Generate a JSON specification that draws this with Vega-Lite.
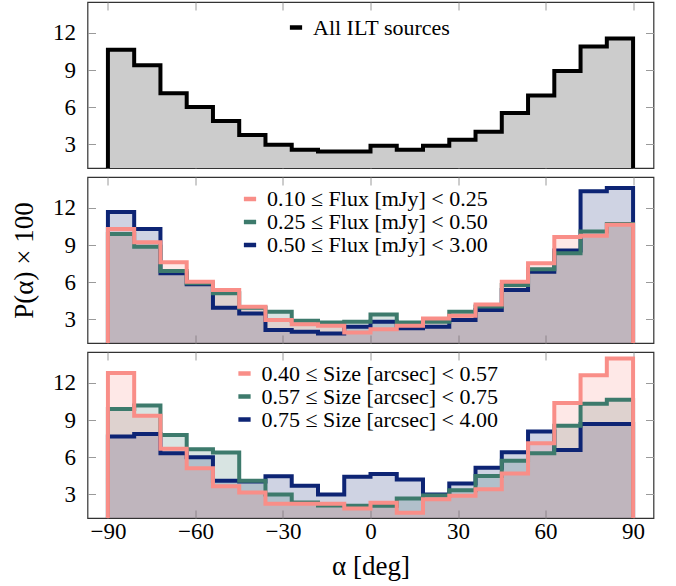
{
 "$schema": "https://vega.github.io/schema/vega-lite/v6.json",
 "padding": {"left": 9.5, "top": 0, "right": 5, "bottom": 5},
 "spacing": 5,
 "config": {
  "font": "Liberation Serif",
  "view": {"stroke": "#333333", "strokeWidth": 1.2},
  "axis": {"grid": false, "domain": false, "tickColor": "#9a9a9a", "tickWidth": 1, "tickSize": -8, "labelFont": "Liberation Serif", "labelFontSize": 23, "labelColor": "black", "titleFont": "Liberation Serif", "titleFontSize": 27, "titleFontWeight": "normal", "titleColor": "black"},
  "legend": {"labelFont": "Liberation Serif", "labelFontSize": 22, "labelColor": "black", "labelLimit": 0}
 },
 "datasets": {
  "all": [
   {"s":"All ILT sources","i":0,"a":-90,"p":0},{"s":"All ILT sources","i":1,"a":-90,"p":10.64},{"s":"All ILT sources","i":2,"a":-81,"p":9.40},{"s":"All ILT sources","i":3,"a":-72,"p":7.14},{"s":"All ILT sources","i":4,"a":-63,"p":6.02},{"s":"All ILT sources","i":5,"a":-54,"p":4.89},{"s":"All ILT sources","i":6,"a":-45,"p":3.76},{"s":"All ILT sources","i":7,"a":-36,"p":2.98},{"s":"All ILT sources","i":8,"a":-27,"p":2.57},{"s":"All ILT sources","i":9,"a":-18,"p":2.44},{"s":"All ILT sources","i":10,"a":-9,"p":2.44},{"s":"All ILT sources","i":11,"a":0,"p":2.90},{"s":"All ILT sources","i":12,"a":9,"p":2.57},{"s":"All ILT sources","i":13,"a":18,"p":2.90},{"s":"All ILT sources","i":14,"a":27,"p":3.38},{"s":"All ILT sources","i":15,"a":36,"p":4.02},{"s":"All ILT sources","i":16,"a":45,"p":5.53},{"s":"All ILT sources","i":17,"a":54,"p":6.95},{"s":"All ILT sources","i":18,"a":63,"p":8.94},{"s":"All ILT sources","i":19,"a":72,"p":10.90},{"s":"All ILT sources","i":20,"a":81,"p":11.55},{"s":"All ILT sources","i":21,"a":90,"p":11.55},{"s":"All ILT sources","i":22,"a":90,"p":0}
  ],
  "flux": [
   {"s":"0.50 ≤ Flux [mJy] < 3.00","i":0,"a":-90,"p":0},{"s":"0.50 ≤ Flux [mJy] < 3.00","i":1,"a":-90,"p":11.68},{"s":"0.50 ≤ Flux [mJy] < 3.00","i":2,"a":-81,"p":10.30},{"s":"0.50 ≤ Flux [mJy] < 3.00","i":3,"a":-72,"p":6.73},{"s":"0.50 ≤ Flux [mJy] < 3.00","i":4,"a":-63,"p":5.84},{"s":"0.50 ≤ Flux [mJy] < 3.00","i":5,"a":-54,"p":3.95},{"s":"0.50 ≤ Flux [mJy] < 3.00","i":6,"a":-45,"p":3.49},{"s":"0.50 ≤ Flux [mJy] < 3.00","i":7,"a":-36,"p":2.14},{"s":"0.50 ≤ Flux [mJy] < 3.00","i":8,"a":-27,"p":2.00},{"s":"0.50 ≤ Flux [mJy] < 3.00","i":9,"a":-18,"p":1.87},{"s":"0.50 ≤ Flux [mJy] < 3.00","i":10,"a":-9,"p":2.41},{"s":"0.50 ≤ Flux [mJy] < 3.00","i":11,"a":0,"p":2.81},{"s":"0.50 ≤ Flux [mJy] < 3.00","i":12,"a":9,"p":2.30},{"s":"0.50 ≤ Flux [mJy] < 3.00","i":13,"a":18,"p":2.41},{"s":"0.50 ≤ Flux [mJy] < 3.00","i":14,"a":27,"p":2.95},{"s":"0.50 ≤ Flux [mJy] < 3.00","i":15,"a":36,"p":3.76},{"s":"0.50 ≤ Flux [mJy] < 3.00","i":16,"a":45,"p":5.38},{"s":"0.50 ≤ Flux [mJy] < 3.00","i":17,"a":54,"p":6.86},{"s":"0.50 ≤ Flux [mJy] < 3.00","i":18,"a":63,"p":8.57},{"s":"0.50 ≤ Flux [mJy] < 3.00","i":19,"a":72,"p":13.35},{"s":"0.50 ≤ Flux [mJy] < 3.00","i":20,"a":81,"p":13.62},{"s":"0.50 ≤ Flux [mJy] < 3.00","i":21,"a":90,"p":13.62},{"s":"0.50 ≤ Flux [mJy] < 3.00","i":22,"a":90,"p":0},
   {"s":"0.25 ≤ Flux [mJy] < 0.50","i":0,"a":-90,"p":0},{"s":"0.25 ≤ Flux [mJy] < 0.50","i":1,"a":-90,"p":9.89},{"s":"0.25 ≤ Flux [mJy] < 0.50","i":2,"a":-81,"p":8.86},{"s":"0.25 ≤ Flux [mJy] < 0.50","i":3,"a":-72,"p":6.92},{"s":"0.25 ≤ Flux [mJy] < 0.50","i":4,"a":-63,"p":5.92},{"s":"0.25 ≤ Flux [mJy] < 0.50","i":5,"a":-54,"p":5.11},{"s":"0.25 ≤ Flux [mJy] < 0.50","i":6,"a":-45,"p":3.95},{"s":"0.25 ≤ Flux [mJy] < 0.50","i":7,"a":-36,"p":3.62},{"s":"0.25 ≤ Flux [mJy] < 0.50","i":8,"a":-27,"p":2.89},{"s":"0.25 ≤ Flux [mJy] < 0.50","i":9,"a":-18,"p":2.76},{"s":"0.25 ≤ Flux [mJy] < 0.50","i":10,"a":-9,"p":2.81},{"s":"0.25 ≤ Flux [mJy] < 0.50","i":11,"a":0,"p":3.41},{"s":"0.25 ≤ Flux [mJy] < 0.50","i":12,"a":9,"p":2.76},{"s":"0.25 ≤ Flux [mJy] < 0.50","i":13,"a":18,"p":2.81},{"s":"0.25 ≤ Flux [mJy] < 0.50","i":14,"a":27,"p":3.62},{"s":"0.25 ≤ Flux [mJy] < 0.50","i":15,"a":36,"p":4.05},{"s":"0.25 ≤ Flux [mJy] < 0.50","i":16,"a":45,"p":5.78},{"s":"0.25 ≤ Flux [mJy] < 0.50","i":17,"a":54,"p":7.05},{"s":"0.25 ≤ Flux [mJy] < 0.50","i":18,"a":63,"p":8.35},{"s":"0.25 ≤ Flux [mJy] < 0.50","i":19,"a":72,"p":10.10},{"s":"0.25 ≤ Flux [mJy] < 0.50","i":20,"a":81,"p":10.70},{"s":"0.25 ≤ Flux [mJy] < 0.50","i":21,"a":90,"p":10.70},{"s":"0.25 ≤ Flux [mJy] < 0.50","i":22,"a":90,"p":0},
   {"s":"0.10 ≤ Flux [mJy] < 0.25","i":0,"a":-90,"p":0},{"s":"0.10 ≤ Flux [mJy] < 0.25","i":1,"a":-90,"p":10.30},{"s":"0.10 ≤ Flux [mJy] < 0.25","i":2,"a":-81,"p":9.24},{"s":"0.10 ≤ Flux [mJy] < 0.25","i":3,"a":-72,"p":7.62},{"s":"0.10 ≤ Flux [mJy] < 0.25","i":4,"a":-63,"p":6.05},{"s":"0.10 ≤ Flux [mJy] < 0.25","i":5,"a":-54,"p":5.38},{"s":"0.10 ≤ Flux [mJy] < 0.25","i":6,"a":-45,"p":4.03},{"s":"0.10 ≤ Flux [mJy] < 0.25","i":7,"a":-36,"p":2.95},{"s":"0.10 ≤ Flux [mJy] < 0.25","i":8,"a":-27,"p":2.62},{"s":"0.10 ≤ Flux [mJy] < 0.25","i":9,"a":-18,"p":2.49},{"s":"0.10 ≤ Flux [mJy] < 0.25","i":10,"a":-9,"p":1.95},{"s":"0.10 ≤ Flux [mJy] < 0.25","i":11,"a":0,"p":2.22},{"s":"0.10 ≤ Flux [mJy] < 0.25","i":12,"a":9,"p":2.50},{"s":"0.10 ≤ Flux [mJy] < 0.25","i":13,"a":18,"p":3.08},{"s":"0.10 ≤ Flux [mJy] < 0.25","i":14,"a":27,"p":3.30},{"s":"0.10 ≤ Flux [mJy] < 0.25","i":15,"a":36,"p":4.20},{"s":"0.10 ≤ Flux [mJy] < 0.25","i":16,"a":45,"p":6.05},{"s":"0.10 ≤ Flux [mJy] < 0.25","i":17,"a":54,"p":7.54},{"s":"0.10 ≤ Flux [mJy] < 0.25","i":18,"a":63,"p":9.65},{"s":"0.10 ≤ Flux [mJy] < 0.25","i":19,"a":72,"p":9.76},{"s":"0.10 ≤ Flux [mJy] < 0.25","i":20,"a":81,"p":10.65},{"s":"0.10 ≤ Flux [mJy] < 0.25","i":21,"a":90,"p":10.65},{"s":"0.10 ≤ Flux [mJy] < 0.25","i":22,"a":90,"p":0}
  ],
  "size": [
   {"s":"0.75 ≤ Size [arcsec] < 4.00","i":0,"a":-90,"p":0},{"s":"0.75 ≤ Size [arcsec] < 4.00","i":1,"a":-90,"p":7.68},{"s":"0.75 ≤ Size [arcsec] < 4.00","i":2,"a":-81,"p":7.89},{"s":"0.75 ≤ Size [arcsec] < 4.00","i":3,"a":-72,"p":6.32},{"s":"0.75 ≤ Size [arcsec] < 4.00","i":4,"a":-63,"p":6.00},{"s":"0.75 ≤ Size [arcsec] < 4.00","i":5,"a":-54,"p":4.11},{"s":"0.75 ≤ Size [arcsec] < 4.00","i":6,"a":-45,"p":4.05},{"s":"0.75 ≤ Size [arcsec] < 4.00","i":7,"a":-36,"p":4.48},{"s":"0.75 ≤ Size [arcsec] < 4.00","i":8,"a":-27,"p":3.70},{"s":"0.75 ≤ Size [arcsec] < 4.00","i":9,"a":-18,"p":3.00},{"s":"0.75 ≤ Size [arcsec] < 4.00","i":10,"a":-9,"p":4.43},{"s":"0.75 ≤ Size [arcsec] < 4.00","i":11,"a":0,"p":4.65},{"s":"0.75 ≤ Size [arcsec] < 4.00","i":12,"a":9,"p":4.20},{"s":"0.75 ≤ Size [arcsec] < 4.00","i":13,"a":18,"p":3.00},{"s":"0.75 ≤ Size [arcsec] < 4.00","i":14,"a":27,"p":3.89},{"s":"0.75 ≤ Size [arcsec] < 4.00","i":15,"a":36,"p":5.16},{"s":"0.75 ≤ Size [arcsec] < 4.00","i":16,"a":45,"p":6.40},{"s":"0.75 ≤ Size [arcsec] < 4.00","i":17,"a":54,"p":8.08},{"s":"0.75 ≤ Size [arcsec] < 4.00","i":18,"a":63,"p":6.59},{"s":"0.75 ≤ Size [arcsec] < 4.00","i":19,"a":72,"p":8.68},{"s":"0.75 ≤ Size [arcsec] < 4.00","i":20,"a":81,"p":8.68},{"s":"0.75 ≤ Size [arcsec] < 4.00","i":21,"a":90,"p":8.68},{"s":"0.75 ≤ Size [arcsec] < 4.00","i":22,"a":90,"p":0},
   {"s":"0.57 ≤ Size [arcsec] < 0.75","i":0,"a":-90,"p":0},{"s":"0.57 ≤ Size [arcsec] < 0.75","i":1,"a":-90,"p":9.89},{"s":"0.57 ≤ Size [arcsec] < 0.75","i":2,"a":-81,"p":10.19},{"s":"0.57 ≤ Size [arcsec] < 0.75","i":3,"a":-72,"p":7.81},{"s":"0.57 ≤ Size [arcsec] < 0.75","i":4,"a":-63,"p":6.65},{"s":"0.57 ≤ Size [arcsec] < 0.75","i":5,"a":-54,"p":6.38},{"s":"0.57 ≤ Size [arcsec] < 0.75","i":6,"a":-45,"p":4.11},{"s":"0.57 ≤ Size [arcsec] < 0.75","i":7,"a":-36,"p":3.00},{"s":"0.57 ≤ Size [arcsec] < 0.75","i":8,"a":-27,"p":2.36},{"s":"0.57 ≤ Size [arcsec] < 0.75","i":9,"a":-18,"p":2.10},{"s":"0.57 ≤ Size [arcsec] < 0.75","i":10,"a":-9,"p":2.08},{"s":"0.57 ≤ Size [arcsec] < 0.75","i":11,"a":0,"p":2.08},{"s":"0.57 ≤ Size [arcsec] < 0.75","i":12,"a":9,"p":2.68},{"s":"0.57 ≤ Size [arcsec] < 0.75","i":13,"a":18,"p":2.92},{"s":"0.57 ≤ Size [arcsec] < 0.75","i":14,"a":27,"p":3.35},{"s":"0.57 ≤ Size [arcsec] < 0.75","i":15,"a":36,"p":4.50},{"s":"0.57 ≤ Size [arcsec] < 0.75","i":16,"a":45,"p":5.73},{"s":"0.57 ≤ Size [arcsec] < 0.75","i":17,"a":54,"p":6.32},{"s":"0.57 ≤ Size [arcsec] < 0.75","i":18,"a":63,"p":8.54},{"s":"0.57 ≤ Size [arcsec] < 0.75","i":19,"a":72,"p":10.32},{"s":"0.57 ≤ Size [arcsec] < 0.75","i":20,"a":81,"p":10.65},{"s":"0.57 ≤ Size [arcsec] < 0.75","i":21,"a":90,"p":10.65},{"s":"0.57 ≤ Size [arcsec] < 0.75","i":22,"a":90,"p":0},
   {"s":"0.40 ≤ Size [arcsec] < 0.57","i":0,"a":-90,"p":0},{"s":"0.40 ≤ Size [arcsec] < 0.57","i":1,"a":-90,"p":12.81},{"s":"0.40 ≤ Size [arcsec] < 0.57","i":2,"a":-81,"p":9.35},{"s":"0.40 ≤ Size [arcsec] < 0.57","i":3,"a":-72,"p":6.70},{"s":"0.40 ≤ Size [arcsec] < 0.57","i":4,"a":-63,"p":5.11},{"s":"0.40 ≤ Size [arcsec] < 0.57","i":5,"a":-54,"p":3.67},{"s":"0.40 ≤ Size [arcsec] < 0.57","i":6,"a":-45,"p":3.16},{"s":"0.40 ≤ Size [arcsec] < 0.57","i":7,"a":-36,"p":2.25},{"s":"0.40 ≤ Size [arcsec] < 0.57","i":8,"a":-27,"p":2.25},{"s":"0.40 ≤ Size [arcsec] < 0.57","i":9,"a":-18,"p":2.25},{"s":"0.40 ≤ Size [arcsec] < 0.57","i":10,"a":-9,"p":1.87},{"s":"0.40 ≤ Size [arcsec] < 0.57","i":11,"a":0,"p":2.33},{"s":"0.40 ≤ Size [arcsec] < 0.57","i":12,"a":9,"p":1.52},{"s":"0.40 ≤ Size [arcsec] < 0.57","i":13,"a":18,"p":2.62},{"s":"0.40 ≤ Size [arcsec] < 0.57","i":14,"a":27,"p":2.90},{"s":"0.40 ≤ Size [arcsec] < 0.57","i":15,"a":36,"p":3.43},{"s":"0.40 ≤ Size [arcsec] < 0.57","i":16,"a":45,"p":4.70},{"s":"0.40 ≤ Size [arcsec] < 0.57","i":17,"a":54,"p":7.14},{"s":"0.40 ≤ Size [arcsec] < 0.57","i":18,"a":63,"p":10.38},{"s":"0.40 ≤ Size [arcsec] < 0.57","i":19,"a":72,"p":12.62},{"s":"0.40 ≤ Size [arcsec] < 0.57","i":20,"a":81,"p":13.97},{"s":"0.40 ≤ Size [arcsec] < 0.57","i":21,"a":90,"p":13.97},{"s":"0.40 ≤ Size [arcsec] < 0.57","i":22,"a":90,"p":0}
  ]
 },
 "vconcat": [
  {
   "width": 566, "height": 166,
   "data": {"name": "all"},
   "layer": [
    {"mark": {"type": "area", "interpolate": "step-after", "clip": true, "color": "#cccccc", "fillOpacity": 1},
     "encoding": {
      "x": {"field": "a", "type": "quantitative", "scale": {"domain": [-97, 97], "nice": false, "zero": false}, "axis": {"orient": "bottom", "values": [-90,-60,-30,0,30,60,90], "labels": false, "title": null}},
      "y": {"field": "p", "type": "quantitative", "stack": null, "scale": {"domain": [1.1, 14.5], "nice": false, "zero": false}, "axis": {"orient": "left", "values": [3,6,9,12], "title": null, "labelPadding": 20}}
     }},
    {"mark": {"type": "line", "interpolate": "step-after", "clip": true, "strokeWidth": 4, "strokeJoin": "miter"},
     "encoding": {
      "x": {"field": "a", "type": "quantitative", "axis": {"orient": "top", "values": [-90,-60,-30,0,30,60,90], "labels": false, "title": null}},
      "y": {"field": "p", "type": "quantitative", "axis": {"orient": "right", "values": [3,6,9,12], "labels": false, "title": null}},
      "order": {"field": "i"},
      "color": {"field": "s", "type": "nominal", "scale": {"domain": ["All ILT sources"], "range": ["#000000"]},
        "legend": {"orient": "none", "legendX": 197.5, "legendY": 14.5, "title": null, "symbolType": "stroke", "symbolStrokeWidth": 4.5, "symbolSize": 150, "labelOffset": 6}}
     }}
   ],
   "resolve": {"axis": {"x": "independent", "y": "independent"}}
  },
  {
   "width": 566, "height": 166,
   "data": {"name": "flux"},
   "layer": [
    {"transform": [{"filter": "datum.s == '0.50 ≤ Flux [mJy] < 3.00'"}],
     "mark": {"type": "area", "interpolate": "step-after", "clip": true, "color": "#0d2474", "fillOpacity": 0.2},
     "encoding": {
      "x": {"field": "a", "type": "quantitative", "scale": {"domain": [-97, 97], "nice": false, "zero": false}, "axis": {"orient": "bottom", "values": [-90,-60,-30,0,30,60,90], "labels": false, "title": null}},
      "y": {"field": "p", "type": "quantitative", "stack": null, "scale": {"domain": [1.1, 14.5], "nice": false, "zero": false}, "axis": {"orient": "left", "values": [3,6,9,12], "title": "P(α) × 100", "labelPadding": 20, "titlePadding": 14}}
     }},
    {"transform": [{"filter": "datum.s == '0.25 ≤ Flux [mJy] < 0.50'"}],
     "mark": {"type": "area", "interpolate": "step-after", "clip": true, "color": "#3d7a6c", "fillOpacity": 0.2},
     "encoding": {
      "x": {"field": "a", "type": "quantitative", "axis": null},
      "y": {"field": "p", "type": "quantitative", "stack": null, "axis": null}
     }},
    {"transform": [{"filter": "datum.s == '0.10 ≤ Flux [mJy] < 0.25'"}],
     "mark": {"type": "area", "interpolate": "step-after", "clip": true, "color": "#f98e88", "fillOpacity": 0.2},
     "encoding": {
      "x": {"field": "a", "type": "quantitative", "axis": null},
      "y": {"field": "p", "type": "quantitative", "stack": null, "axis": null}
     }},
    {"mark": {"type": "line", "interpolate": "step-after", "clip": true, "strokeWidth": 4, "strokeJoin": "miter"},
     "encoding": {
      "x": {"field": "a", "type": "quantitative", "axis": {"orient": "top", "values": [-90,-60,-30,0,30,60,90], "labels": false, "title": null}},
      "y": {"field": "p", "type": "quantitative", "axis": {"orient": "right", "values": [3,6,9,12], "labels": false, "title": null}},
      "order": {"field": "i"},
      "color": {"field": "s", "type": "nominal", "scale": {"domain": ["0.10 ≤ Flux [mJy] < 0.25", "0.25 ≤ Flux [mJy] < 0.50", "0.50 ≤ Flux [mJy] < 3.00"], "range": ["#f98e88", "#3d7a6c", "#0d2474"]},
        "legend": {"orient": "none", "legendX": 151.5, "legendY": 11, "title": null, "symbolType": "stroke", "symbolStrokeWidth": 4.5, "symbolSize": 150, "labelOffset": 6, "rowPadding": 1}}
     }}
   ],
   "resolve": {"axis": {"x": "independent", "y": "independent"}}
  },
  {
   "width": 566, "height": 166,
   "data": {"name": "size"},
   "layer": [
    {"transform": [{"filter": "datum.s == '0.75 ≤ Size [arcsec] < 4.00'"}],
     "mark": {"type": "area", "interpolate": "step-after", "clip": true, "color": "#0d2474", "fillOpacity": 0.2},
     "encoding": {
      "x": {"field": "a", "type": "quantitative", "scale": {"domain": [-97, 97], "nice": false, "zero": false}, "axis": {"orient": "bottom", "values": [-90,-60,-30,0,30,60,90], "title": "α [deg]", "labelPadding": 10, "titlePadding": 10}},
      "y": {"field": "p", "type": "quantitative", "stack": null, "scale": {"domain": [1.1, 14.5], "nice": false, "zero": false}, "axis": {"orient": "left", "values": [3,6,9,12], "title": null, "labelPadding": 20}}
     }},
    {"transform": [{"filter": "datum.s == '0.57 ≤ Size [arcsec] < 0.75'"}],
     "mark": {"type": "area", "interpolate": "step-after", "clip": true, "color": "#3d7a6c", "fillOpacity": 0.2},
     "encoding": {
      "x": {"field": "a", "type": "quantitative", "axis": null},
      "y": {"field": "p", "type": "quantitative", "stack": null, "axis": null}
     }},
    {"transform": [{"filter": "datum.s == '0.40 ≤ Size [arcsec] < 0.57'"}],
     "mark": {"type": "area", "interpolate": "step-after", "clip": true, "color": "#f98e88", "fillOpacity": 0.2},
     "encoding": {
      "x": {"field": "a", "type": "quantitative", "axis": null},
      "y": {"field": "p", "type": "quantitative", "stack": null, "axis": null}
     }},
    {"mark": {"type": "line", "interpolate": "step-after", "clip": true, "strokeWidth": 4, "strokeJoin": "miter"},
     "encoding": {
      "x": {"field": "a", "type": "quantitative", "axis": {"orient": "top", "values": [-90,-60,-30,0,30,60,90], "labels": false, "title": null}},
      "y": {"field": "p", "type": "quantitative", "axis": {"orient": "right", "values": [3,6,9,12], "labels": false, "title": null}},
      "order": {"field": "i"},
      "color": {"field": "s", "type": "nominal", "scale": {"domain": ["0.40 ≤ Size [arcsec] < 0.57", "0.57 ≤ Size [arcsec] < 0.75", "0.75 ≤ Size [arcsec] < 4.00"], "range": ["#f98e88", "#3d7a6c", "#0d2474"]},
        "legend": {"orient": "none", "legendX": 146, "legendY": 10.5, "title": null, "symbolType": "stroke", "symbolStrokeWidth": 4.5, "symbolSize": 150, "labelOffset": 6, "rowPadding": 1}}
     }}
   ],
   "resolve": {"axis": {"x": "independent", "y": "independent"}}
  }
 ],
 "resolve": {"scale": {"color": "independent"}, "legend": {"color": "independent"}}
}
